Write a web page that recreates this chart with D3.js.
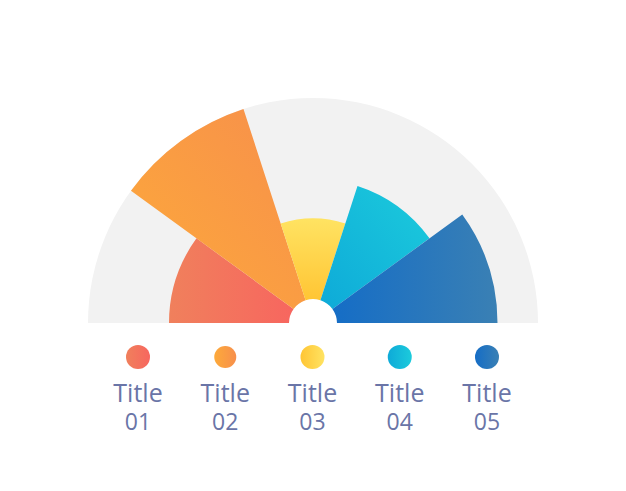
<!DOCTYPE html>
<html><head><meta charset="utf-8">
<script src="https://cdn.jsdelivr.net/npm/d3@7"></script>
<style>html,body{margin:0;padding:0;background:#fff;}svg{display:block;}</style>
</head><body>
<svg id="chart" width="626" height="491"></svg>
<script>
const categories = ["Title 01","Title 02","Title 03","Title 04","Title 05"];
const values = [64, 100, 46.5, 64, 82];
const maxValue = 100;
const gradStops = [
  ["#f0805c","#f7665f"],
  ["#fdaa3a","#f78f4c"],
  ["#ffc534","#ffe362"],
  ["#0eaad8","#1ccbdc"],
  ["#156dc6","#3a80b4"]
];

const svg = d3.select("#chart");
const cx = 313, cy = 323, R = 225, r0 = 24;
const rScale = d3.scaleLinear().domain([0, maxValue]).range([0, R]);
const angle = d3.scaleBand().domain(categories).range([-Math.PI/2, Math.PI/2]).padding(0);

const defs = svg.append("defs");
gradStops.forEach((s,i)=>{
  let g;
  if(i===1){ g = defs.append("linearGradient").attr("id","g"+i).attr("x1",0).attr("y1",1).attr("x2",1).attr("y2",0); }
  else if(i===2){ g = defs.append("linearGradient").attr("id","g"+i).attr("x1",0).attr("y1",1).attr("x2",0).attr("y2",0); }
  else if(i===3){ g = defs.append("linearGradient").attr("id","g"+i).attr("x1",0).attr("y1",1).attr("x2",1).attr("y2",0); }
  else { g = defs.append("linearGradient").attr("id","g"+i).attr("x1",0).attr("y1",0).attr("x2",1).attr("y2",0); }
  g.append("stop").attr("offset","0%").attr("stop-color",s[0]);
  g.append("stop").attr("offset","100%").attr("stop-color",s[1]);
  const h = defs.append("linearGradient").attr("id","l"+i).attr("x1",0).attr("y1",0).attr("x2",1).attr("y2",0);
  h.append("stop").attr("offset","0%").attr("stop-color",s[0]);
  h.append("stop").attr("offset","100%").attr("stop-color",s[1]);
});

const g = svg.append("g").attr("transform",`translate(${cx},${cy})`);
const arc = d3.arc();
g.append("path").attr("d", arc({innerRadius:r0, outerRadius:R, startAngle:-Math.PI/2, endAngle:Math.PI/2})).attr("fill","#f2f2f2");

g.selectAll("path.w").data(categories).join("path").attr("class","w")
  .attr("d",(d,i)=>arc({innerRadius:r0, outerRadius:rScale(values[i]), startAngle:angle(d), endAngle:angle(d)+angle.bandwidth()}))
  .attr("fill",(d,i)=>`url(#g${i})`);

const lx = d3.scalePoint().domain(categories).range([138,487]);
const leg = svg.selectAll("g.leg").data(categories).join("g").attr("class","leg")
  .attr("transform",d=>`translate(${lx(d)},0)`);
leg.append("circle").attr("cy",357).attr("r",(d,i)=>i===1?11:12).attr("fill",(d,i)=>`url(#l${i})`);
const t = leg.append("text").attr("text-anchor","middle")
  .attr("font-family","Open Sans").attr("font-weight",400).attr("fill","#6a75a7");
t.append("tspan").attr("x",0).attr("y",402).attr("font-size",25).text(d=>d.split(" ")[0]);
t.append("tspan").attr("x",0).attr("y",430).attr("font-size",23).text(d=>d.split(" ")[1]);
</script>
</body></html>
